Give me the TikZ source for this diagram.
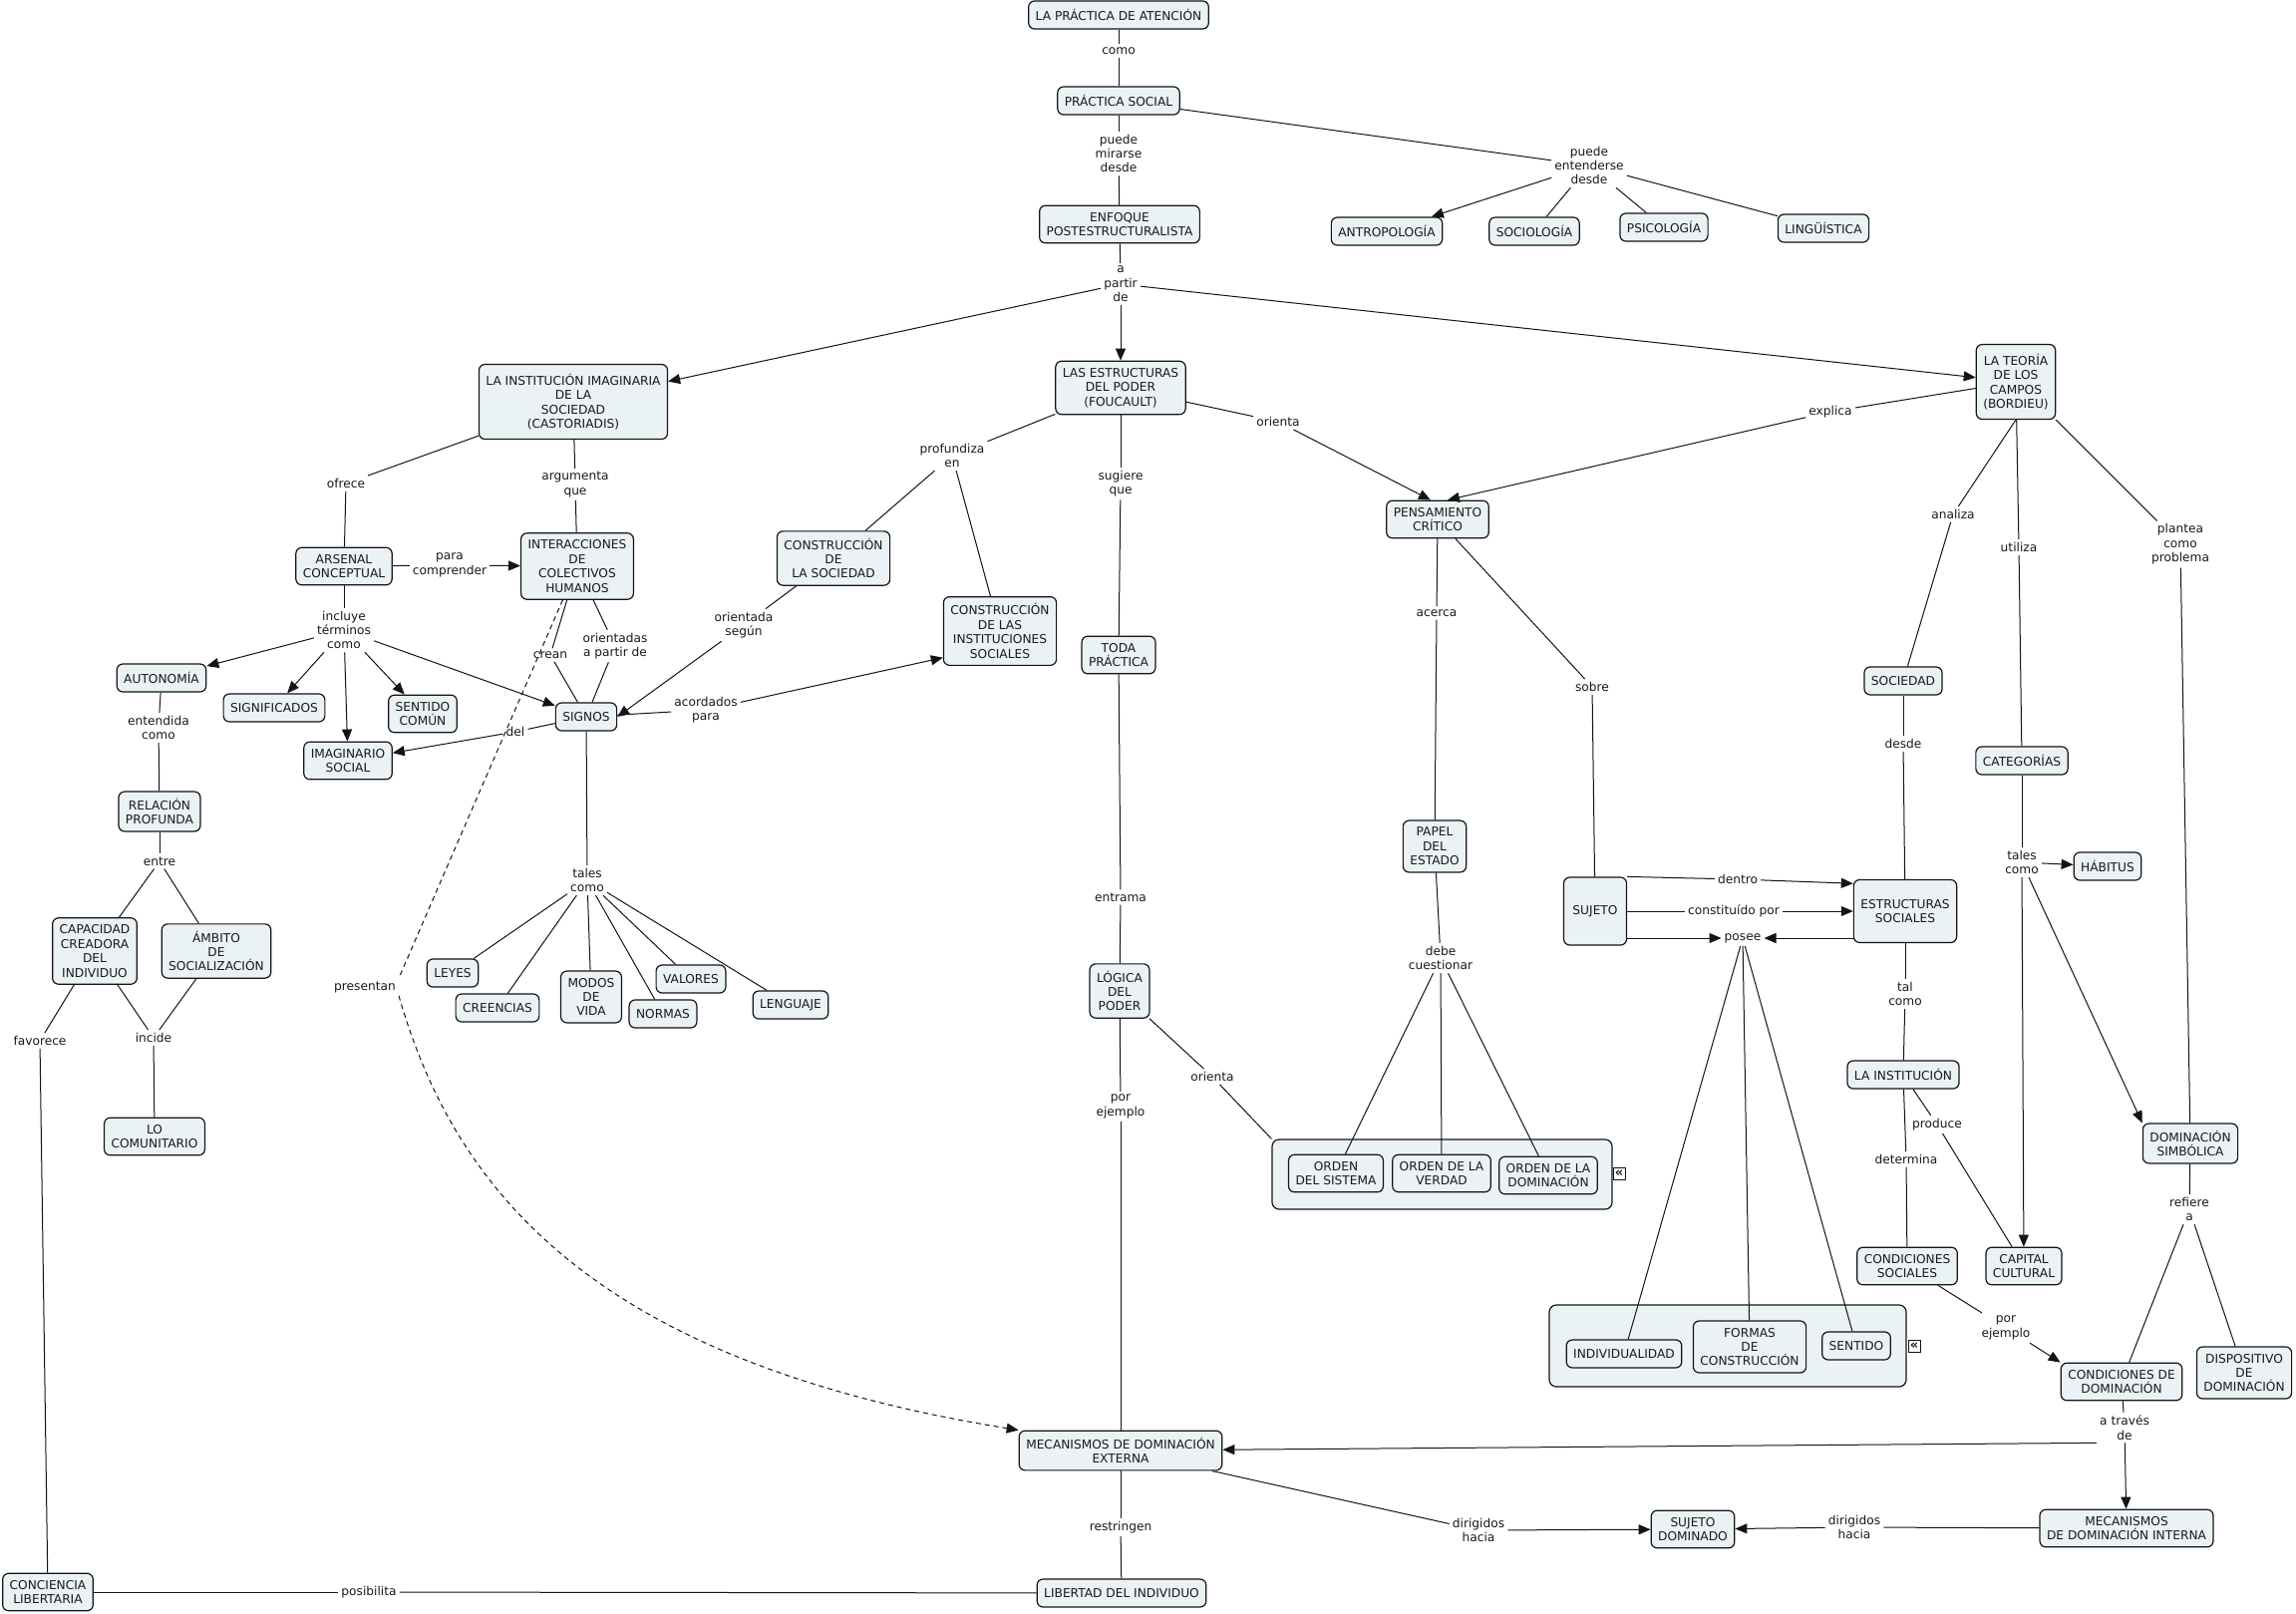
\documentclass[tikz,border=0pt]{standalone}
\usepackage{fontspec}
\setmainfont{DejaVu Sans}
\usetikzlibrary{arrows.meta}
\definecolor{cfill}{RGB}{235,242,245}
\definecolor{cedge}{RGB}{20,20,20}
\begin{document}
\begin{tikzpicture}[x=1pt,y=-1pt,
  every node/.style={font=\fontsize{12.2}{14.4}\selectfont, text=black!90},
  cpt/.style={draw=cedge, line width=1.2pt, rounded corners=6pt, fill=cfill, align=center, inner xsep=7pt, inner ysep=7pt, minimum height=28pt},
  lab/.style={inner sep=3pt, align=center},
  grp/.style={draw=cedge, line width=1.2pt, rounded corners=7pt, fill=cfill, inner sep=0pt},
  ln/.style={draw=cedge, line width=1pt},
  arr/.style={-{Triangle[length=12pt,width=10pt]}},
  dsh/.style={dash pattern=on 5pt off 4pt},
  icon/.style={draw=cedge, line width=0.9pt, fill=white, inner sep=0pt, minimum size=12pt, font=\fontsize{13}{13}\selectfont\bfseries}]
\fill[white] (0,0) rectangle (2303,1618);
\useasboundingbox (0,0) rectangle (2303,1618);

% group boxes
\node[grp, minimum width=341pt, minimum height=70pt] (g1) at (1446.5,1178) {};
\node[grp, minimum width=358pt, minimum height=82pt] (g2) at (1733,1350) {};
\node[icon] (ic1) at (1624,1177) {«};
\node[icon] (ic2) at (1920,1350) {«};

% concepts
\node[cpt] (pa) at (1122,15) {LA PRÁCTICA DE ATENCIÓN};
\node[cpt] (ps) at (1122,101) {PRÁCTICA SOCIAL};
\node[cpt] (enf) at (1123,225) {ENFOQUE\\POSTESTRUCTURALISTA};
\node[cpt] (antr) at (1391,232) {ANTROPOLOGÍA};
\node[cpt] (soc) at (1539,232) {SOCIOLOGÍA};
\node[cpt] (psi) at (1669,228) {PSICOLOGÍA};
\node[cpt] (ling) at (1829,229) {LINGÜÍSTICA};
\node[cpt, minimum height=75pt] (cast) at (575,403) {LA INSTITUCIÓN IMAGINARIA\\DE LA\\SOCIEDAD\\(CASTORIADIS)};
\node[cpt] (fouc) at (1124,389) {LAS ESTRUCTURAS\\DEL PODER\\(FOUCAULT)};
\node[cpt, minimum height=75pt] (bour) at (2022,383) {LA TEORÍA\\DE LOS\\CAMPOS\\(BORDIEU)};
\node[cpt] (ars) at (345,568) {ARSENAL\\CONCEPTUAL};
\node[cpt] (inter) at (579,568) {INTERACCIONES\\DE\\COLECTIVOS\\HUMANOS};
\node[cpt] (auto) at (162,680) {AUTONOMÍA};
\node[cpt] (signif) at (275,710) {SIGNIFICADOS};
\node[cpt] (sentc) at (424,716) {SENTIDO\\COMÚN};
\node[cpt] (imag) at (349,763) {IMAGINARIO\\SOCIAL};
\node[cpt] (sig) at (588,719) {SIGNOS};
\node[cpt] (cs) at (836,560) {CONSTRUCCIÓN\\DE\\LA SOCIEDAD};
\node[cpt] (ci) at (1003,633) {CONSTRUCCIÓN\\DE LAS\\INSTITUCIONES\\SOCIALES};
\node[cpt] (toda) at (1122,657) {TODA\\PRÁCTICA};
\node[cpt] (pc) at (1442,521) {PENSAMIENTO\\CRÍTICO};
\node[cpt] (socd) at (1909,683) {SOCIEDAD};
\node[cpt] (cat) at (2028,763) {CATEGORÍAS};
\node[cpt] (hab) at (2114,869) {HÁBITUS};
\node[cpt] (leyes) at (454,976) {LEYES};
\node[cpt] (cree) at (499,1011) {CREENCIAS};
\node[cpt] (modos) at (593,1000) {MODOS\\DE\\VIDA};
\node[cpt] (normas) at (665,1017) {NORMAS};
\node[cpt] (valores) at (693,982) {VALORES};
\node[cpt] (leng) at (793,1008) {LENGUAJE};
\node[cpt] (rel) at (160,814) {RELACIÓN\\PROFUNDA};
\node[cpt] (cap) at (95,954) {CAPACIDAD\\CREADORA\\DEL\\INDIVIDUO};
\node[cpt] (amb) at (217,954) {ÁMBITO\\DE\\SOCIALIZACIÓN};
\node[cpt] (lc) at (155,1140) {LO\\COMUNITARIO};
\node[cpt, minimum width=63pt, minimum height=68pt] (suj) at (1600,914) {SUJETO};
\node[cpt, minimum height=63pt] (es) at (1911,914) {ESTRUCTURAS\\SOCIALES};
\node[cpt] (papel) at (1439,849) {PAPEL\\DEL\\ESTADO};
\node[cpt] (log) at (1123,994) {LÓGICA\\DEL\\PODER};
\node[cpt] (linst) at (1909,1078) {LA INSTITUCIÓN};
\node[cpt] (os) at (1340,1177) {ORDEN\\DEL SISTEMA};
\node[cpt] (ov) at (1446,1177) {ORDEN DE LA\\VERDAD};
\node[cpt] (od) at (1553,1179) {ORDEN DE LA\\DOMINACIÓN};
\node[cpt] (ds) at (2197,1147) {DOMINACIÓN\\SIMBÓLICA};
\node[cpt] (csoc) at (1913,1270) {CONDICIONES\\SOCIALES};
\node[cpt] (capc) at (2030,1270) {CAPITAL\\CULTURAL};
\node[cpt] (indiv) at (1629,1358) {INDIVIDUALIDAD};
\node[cpt] (formas) at (1755,1351) {FORMAS\\DE\\CONSTRUCCIÓN};
\node[cpt] (sent) at (1862,1350) {SENTIDO};
\node[cpt] (cd) at (2128,1386) {CONDICIONES DE\\DOMINACIÓN};
\node[cpt] (disp) at (2251,1377) {DISPOSITIVO\\DE\\DOMINACIÓN};
\node[cpt] (me) at (1124,1455) {MECANISMOS DE DOMINACIÓN\\EXTERNA};
\node[cpt] (sd) at (1698,1534) {SUJETO\\DOMINADO};
\node[cpt] (mi) at (2133,1533) {MECANISMOS\\DE DOMINACIÓN INTERNA};
\node[cpt] (lib) at (1125,1598) {LIBERTAD DEL INDIVIDUO};
\node[cpt] (conc) at (48,1597) {CONCIENCIA\\LIBERTARIA};

% linking phrases
\node[lab] (Lcomo) at (1122,51) {como};
\node[lab] (Lmir) at (1122,154) {puede\\mirarse\\desde};
\node[lab] (Lapd) at (1124,285) {a\\partir\\de};
\node[lab] (Lent) at (1594,166) {puede\\entenderse\\desde};
\node[lab] (Lofr) at (347,485) {ofrece};
\node[lab] (Larg) at (577,486) {argumenta\\que};
\node[lab] (Lpara) at (451,567) {para\\comprender};
\node[lab] (Lincl) at (345,632) {incluye\\términos\\como};
\node[lab] (Lcrean) at (552,657) {crean};
\node[lab] (Lorap) at (617,648) {orientadas\\a partir de};
\node[lab] (Ldel) at (517,734) {del};
\node[lab] (Lacor) at (708,712) {acordados\\para};
\node[lab] (Ltc1) at (589,883) {tales\\como};
\node[lab] (Lprof) at (955,457) {profundiza\\en};
\node[lab] (Lors) at (746,627) {orientada\\según};
\node[lab] (Lsug) at (1124,485) {sugiere\\que};
\node[lab] (Lentr) at (1124,900) {entrama};
\node[lab] (Lor1) at (1282,423) {orienta};
\node[lab] (Lexpl) at (1836,413) {explica};
\node[lab] (Lanal) at (1959,516) {analiza};
\node[lab] (Lutil) at (2025,549) {utiliza};
\node[lab] (Lplan) at (2187,546) {plantea\\como\\problema};
\node[lab] (Lacer) at (1441,615) {acerca};
\node[lab] (Lsobre) at (1597,689) {sobre};
\node[lab] (Ldesde) at (1909,746) {desde};
\node[lab] (Ltc2) at (2028,865) {tales\\como};
\node[lab] (Lenc) at (159,730) {entendida\\como};
\node[lab] (Lentre) at (160,864) {entre};
\node[lab] (Lfav) at (40,1044) {favorece};
\node[lab] (Linc) at (154,1041) {incide};
\node[lab] (Lpres) at (366,990) {presentan};
\node[lab] (Ldentro) at (1743,882) {dentro};
\node[lab] (Lconst) at (1739,914) {constituído por};
\node[lab] (Lposee) at (1748,941) {posee};
\node[lab] (Ldeb) at (1445,961) {debe\\cuestionar};
\node[lab] (Ltalc) at (1911,997) {tal\\como};
\node[lab] (Lprod) at (1943,1128) {produce};
\node[lab] (Ldet) at (1912,1163) {determina};
\node[lab] (Lor2) at (1216,1080) {orienta};
\node[lab] (Lpe1) at (1124,1110) {por\\ejemplo};
\node[lab] (Lref) at (2196,1213) {refiere\\a};
\node[lab] (Lpe2) at (2012,1332) {por\\ejemplo};
\node[lab] (Latr) at (2131,1432) {a través\\de};
\node[lab] (Ldir1) at (1483,1535) {dirigidos\\hacia};
\node[lab] (Ldir2) at (1860,1532) {dirigidos\\hacia};
\node[lab] (Lrestr) at (1124,1532) {restringen};
\node[lab] (Lposib) at (370,1597) {posibilita};

% connectors: top
\draw[ln] (pa) -- (Lcomo); \draw[ln] (Lcomo) -- (ps);
\draw[ln] (ps) -- (Lmir); \draw[ln] (Lmir) -- (enf);
\draw[ln] (ps) -- (Lent);
\draw[ln,arr] (Lent) -- (antr);
\draw[ln] (Lent) -- (soc);
\draw[ln] (Lent) -- (psi);
\draw[ln] (Lent) -- (ling);
\draw[ln] (enf) -- (Lapd);
\draw[ln,arr] (Lapd) -- (cast);
\draw[ln,arr] (Lapd) -- (fouc);
\draw[ln,arr] (Lapd) -- (bour);

% castoriadis branch
\draw[ln] (cast) -- (Lofr); \draw[ln] (Lofr) -- (ars);
\draw[ln] (cast) -- (Larg); \draw[ln] (Larg) -- (inter);
\draw[ln] (ars) -- (Lpara); \draw[ln,arr] (Lpara) -- (inter);
\draw[ln] (ars) -- (Lincl);
\draw[ln,arr] (Lincl) -- (auto);
\draw[ln,arr] (Lincl) -- (signif);
\draw[ln,arr] (Lincl) -- (imag);
\draw[ln,arr] (Lincl) -- (sentc);
\draw[ln,arr] (Lincl) -- (sig);
\draw[ln] (inter) -- (Lcrean); \draw[ln] (Lcrean) -- (sig);
\draw[ln] (inter) -- (Lorap); \draw[ln] (Lorap) -- (sig);
\draw[ln] (sig) -- (Ldel); \draw[ln,arr] (Ldel) -- (imag);
\draw[ln] (sig) -- (Lacor); \draw[ln,arr] (Lacor) -- (ci.205);
\draw[ln] (sig) -- (Ltc1);
\draw[ln] (Ltc1) -- (leyes);
\draw[ln] (Ltc1) -- (cree);
\draw[ln] (Ltc1) -- (modos);
\draw[ln] (Ltc1) -- (normas);
\draw[ln] (Ltc1) -- (valores);
\draw[ln] (Ltc1) -- (leng);
\draw[ln] (auto) -- (Lenc); \draw[ln] (Lenc) -- (rel);
\draw[ln] (rel) -- (Lentre); \draw[ln] (Lentre) -- (cap); \draw[ln] (Lentre) -- (amb);
\draw[ln] (cap) -- (Linc); \draw[ln] (amb) -- (Linc); \draw[ln] (Linc) -- (lc);
\draw[ln] (cap) -- (Lfav); \draw[ln] (Lfav) -- (conc);
\draw[ln,dsh] (inter) -- (Lpres.north east);
\draw[ln,dsh,arr] (Lpres.south east) .. controls (455,1190) and (590,1365) .. (me.north west);

% foucault branch
\draw[ln] (fouc) -- (Lprof); \draw[ln] (Lprof) -- (cs); \draw[ln] (Lprof) -- (ci);
\draw[ln] (cs) -- (Lors); \draw[ln,arr] (Lors) -- (sig.east);
\draw[ln] (fouc) -- (Lsug); \draw[ln] (Lsug) -- (toda);
\draw[ln] (toda) -- (Lentr); \draw[ln] (Lentr) -- (log);
\draw[ln] (log) -- (Lpe1); \draw[ln] (Lpe1) -- (me);
\draw[ln] (log) -- (Lor2); \draw[ln] (Lor2) -- (g1.north west);
\draw[ln] (fouc) -- (Lor1); \draw[ln,arr] (Lor1) -- (pc.110);
\draw[ln] (bour) -- (Lexpl); \draw[ln,arr] (Lexpl) -- (pc.63);

% pensamiento critico
\draw[ln] (pc) -- (Lacer); \draw[ln] (Lacer) -- (papel);
\draw[ln] (pc) -- (Lsobre); \draw[ln] (Lsobre) -- (suj);
\draw[ln] (papel) -- (Ldeb);
\draw[ln] (Ldeb) -- (os); \draw[ln] (Ldeb) -- (ov); \draw[ln] (Ldeb) -- (od);

% sujeto
\draw[ln] (suj.north east) -- (Ldentro); \draw[ln,arr] (Ldentro) -- (es.152);
\draw[ln] (suj) -- (Lconst); \draw[ln,arr] (Lconst) -- (es);
\draw[ln,arr] (suj.east |- Lposee) -- (Lposee);
\draw[ln,arr] (es.west |- Lposee) -- (Lposee);
\draw[ln] (Lposee) -- (indiv); \draw[ln] (Lposee) -- (formas); \draw[ln] (Lposee) -- (sent);

% bordieu branch
\draw[ln] (bour.south) -- (Lanal); \draw[ln] (Lanal) -- (socd);
\draw[ln] (socd) -- (Ldesde); \draw[ln] (Ldesde) -- (es);
\draw[ln] (bour) -- (Lutil); \draw[ln] (Lutil) -- (cat);
\draw[ln] (bour.south east) -- (Lplan); \draw[ln] (Lplan) -- (ds);
\draw[ln] (cat) -- (Ltc2);
\draw[ln,arr] (Ltc2) -- (hab);
\draw[ln,arr] (Ltc2) -- (capc);
\draw[ln,arr] (Ltc2) -- (ds.north west);
\draw[ln] (es) -- (Ltalc); \draw[ln] (Ltalc) -- (linst);
\draw[ln] (linst) -- (Lprod); \draw[ln] (Lprod) -- (capc);
\draw[ln] (linst) -- (Ldet); \draw[ln] (Ldet) -- (csoc);
\draw[ln] (ds) -- (Lref); \draw[ln] (Lref) -- (cd); \draw[ln] (Lref) -- (disp);
\draw[ln] (csoc) -- (Lpe2); \draw[ln,arr] (Lpe2) -- (cd.north west);
\draw[ln] (cd) -- (Latr);
\draw[ln,arr] (Latr) -- (mi);
\draw[ln,arr] (Latr.south west) -- (me);

% bottom
\draw[ln] (me) -- (Ldir1); \draw[ln,arr] (Ldir1) -- (sd);
\draw[ln] (mi) -- (Ldir2); \draw[ln,arr] (Ldir2) -- (sd);
\draw[ln] (me) -- (Lrestr); \draw[ln] (Lrestr) -- (lib);
\draw[ln] (conc) -- (Lposib); \draw[ln] (Lposib) -- (lib);
\end{tikzpicture}
\end{document}
